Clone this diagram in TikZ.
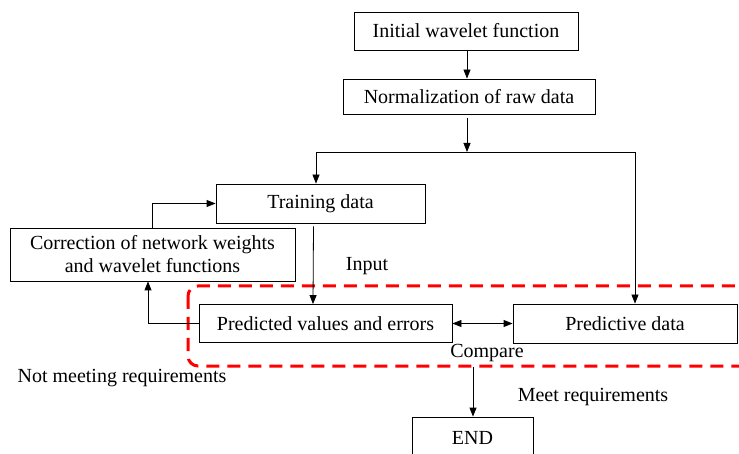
\documentclass[tikz,border=0pt]{standalone}
\usepackage{fontspec}
\setmainfont{Liberation Serif}
\usetikzlibrary{arrows.meta,calc}
\begin{document}
\begin{tikzpicture}[x=1pt,y=-1pt,
  box/.style={draw, line width=0.8pt, inner sep=0pt, font=\fontsize{20}{23}\selectfont, align=center},
  lbl/.style={inner sep=0pt, font=\fontsize{20}{23}\selectfont},
  arr/.style={line width=0.8pt, -{Triangle[length=9pt,width=7pt]}},
  ln/.style={line width=0.8pt},
  zone/.style={draw=red, line width=3pt, dash pattern=on 13pt off 8pt, rounded corners=10pt}]
\useasboundingbox (0,0) rectangle (739,454);
\node[box, minimum width=224pt, minimum height=38pt] (init) at (466,31) {Initial wavelet function};
\node[box, minimum width=252pt, minimum height=35pt] (norm) at (469,96.5) {Normalization of raw data};
\node[box, minimum width=209pt, minimum height=39pt] (train) at (320.5,203.5) {Training data};
\node[box, minimum width=285pt, minimum height=53pt] (corr) at (152.5,254.5) {Correction of network weights\\and wavelet functions};
\node[box, minimum width=253pt, minimum height=38pt] (pred) at (325.5,323.5) {Predicted values and errors};
\node[box, minimum width=224pt, minimum height=39pt] (pdata) at (625,323.5) {Predictive data};
\node[box, minimum width=121pt, minimum height=42pt] (end) at (472.5,438) {END};
\draw[zone] (188,286) rectangle (750,366);
\node[lbl] (input) at (367,266) {Input};
\node[lbl] (compare) at (487,353) {Compare};
\node[lbl] (notmeet) at (122,378) {Not meeting requirements};
\node[lbl] (meet) at (593,397) {Meet requirements};
\coordinate (br) at (467,152);
\coordinate (tl) at (316,152);
\coordinate (tr) at (635,152);
\coordinate (ns) at (467,118);
\coordinate (cmp) at (473,367);
\draw[arr] (init.south -| br) -- (norm.north -| br);
\draw[arr] (ns) -- (br);
\draw[ln] (tl) -- (tr);
\draw[arr] (tl) -- (train.north -| tl);
\draw[arr] (tr) -- (pdata.north -| tr);
\draw[arr] ($(train.south)+(-7,3)$) -- (pred.north -| 313,0);
\draw[arr] (corr.north -| 152,0) |- (train.west);
\draw[arr] (pred.west) -| (corr.south -| 148,0);
\draw[line width=0.8pt, {Triangle[length=9pt,width=7pt]}-{Triangle[length=9pt,width=7pt]}] (pred.east) -- (pdata.west);
\draw[arr] (cmp) -- (end.north -| cmp);
\end{tikzpicture}
\end{document}
